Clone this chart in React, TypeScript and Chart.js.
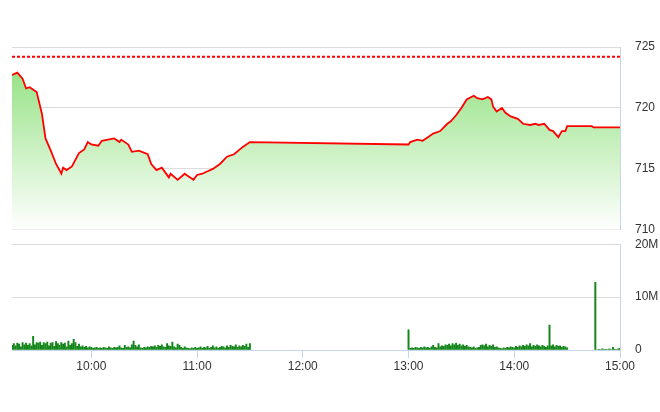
import React, { useEffect, useRef } from "react";
import { Chart, registerables } from "chart.js";
Chart.register(...registerables);

// ---- data ----
const priceTimes = [
  "09:15","09:18","09:21","09:23","09:25","09:29","09:32","09:34","09:37","09:40",
  "09:43","09:44","09:46","09:49","09:53","09:56","09:58","10:00","10:04","10:06",
  "10:13","10:16","10:17","10:21","10:23","10:27","10:32","10:34","10:37","10:40",
  "10:44","10:45","10:49","10:53","10:55","10:58","11:00","11:03","11:06","11:09",
  "11:13","11:17","11:21","11:26","11:30",
  "13:00","13:01","13:05","13:08","13:11","13:14","13:18","13:22","13:24","13:27",
  "13:30","13:33","13:37","13:39","13:42","13:45","13:47","13:48","13:50","13:53",
  "13:55","13:58","14:02","14:05","14:09","14:12","14:14","14:17","14:20","14:22",
  "14:25","14:27","14:29","14:30","14:44","14:45","15:00",
];
const priceValues = [
  722.7,722.9,722.4,721.6,721.7,721.3,719.5,717.5,716.5,715.4,
  714.6,715.1,714.9,715.2,716.3,716.6,717.2,717.0,716.9,717.3,
  717.5,717.2,717.4,717.0,716.4,716.5,716.2,715.4,714.9,715.1,
  714.3,714.6,714.1,714.6,714.4,714.1,714.5,714.6,714.8,715.0,
  715.4,716.0,716.2,716.8,717.2,
  717.0,717.2,717.4,717.3,717.6,717.9,718.1,718.7,718.9,719.4,
  720.0,720.7,721.0,720.8,720.7,720.9,720.7,720.1,719.7,720.0,
  719.6,719.3,719.1,718.7,718.6,718.7,718.6,718.7,718.2,718.1,
  717.6,718.1,718.1,718.5,718.5,718.4,718.4,
];
const refPrice = 724.2;
const sessionStart = "09:15";
const sessionEnd = "15:00";
const xTickLabels = ["10:00", "11:00", "12:00", "13:00", "14:00", "15:00"];
const priceTicks = [710, 715, 720, 725];
const volumeTicks = [0, 10000000, 20000000];

// volume per minute (millions)
const volMorningStart = "09:15";
const volMorning = [
  0.9,1.2,0.8,1.3,1.1,0.6,1.4,1.0,1.3,0.9,
  1.2,0.8,2.6,1.0,1.4,1.3,1.5,0.9,1.4,1.2,
  1.5,0.8,1.3,1.4,0.7,1.6,1.2,0.9,1.4,1.1,
  1.3,0.6,1.7,0.9,1.2,2.0,1.4,0.7,1.1,0.6,
  0.8,0.5,0.7,0.4,0.6,0.5,0.3,0.4,0.5,0.3,
  0.4,0.3,0.5,0.4,0.3,0.6,0.4,0.3,0.5,0.4,
  0.5,0.8,0.4,0.3,0.9,0.5,0.6,0.4,1.0,1.7,
  0.9,0.6,1.0,0.4,0.3,0.5,0.4,0.6,0.5,0.7,
  0.6,0.8,0.5,0.9,0.7,1.0,0.6,0.5,1.2,0.8,
  0.7,1.5,0.6,0.4,1.1,0.9,0.5,0.3,0.6,0.4,
  0.3,0.2,0.4,0.3,0.5,0.3,0.4,0.6,0.3,0.5,
  0.4,0.7,0.3,0.5,0.8,0.4,0.6,0.3,0.5,0.7,
  0.6,0.4,0.8,0.5,0.9,0.7,0.6,1.0,0.5,0.8,
  0.6,0.9,0.7,1.1,0.5,1.2,
];
const volAfternoonStart = "13:00";
const volAfternoon = [
  3.8,
  0.3,0.4,0.3,0.5,0.4,0.3,0.5,0.4,0.6,0.4,
  0.5,0.3,0.6,0.9,0.5,0.4,1.2,0.6,0.8,0.7,
  1.0,0.9,1.1,0.8,1.2,1.0,1.3,0.9,1.1,0.8,
  1.0,0.7,0.9,0.6,0.5,0.4,0.6,0.3,0.4,0.5,
  0.9,1.0,0.8,1.1,0.6,0.9,0.7,1.0,0.5,0.6,
  0.4,0.3,0.2,0.4,0.3,0.5,0.4,0.6,0.5,0.4,
  0.7,0.5,0.8,0.6,0.9,0.7,1.0,0.8,1.2,0.6,
  0.9,0.7,1.0,0.8,0.6,0.9,0.7,0.5,0.8,4.7,
  0.8,1.0,0.6,0.9,0.7,0.8,0.5,0.7,0.6,0.4,
];
const volCloseStart = "14:46";
const volClose = [12.8,0,0.15,0.1,0.2,0.1,0.15,0.1,0.2,0.1,0.5,0.15,0.1,0.2,0.3];

// ---- helpers ----
const toMin = (s: string) => {
  const [h, m] = s.split(":").map(Number);
  return h * 60 + m;
};
const fmt = (v: number) => {
  const h = Math.floor(v / 60);
  const m = Math.round(v - h * 60);
  return `${h}:${m < 10 ? "0" : ""}${m}`;
};
const FONT = { family: "'Liberation Sans Narrow', 'Arial Narrow', 'Liberation Sans', sans-serif", size: 12 };
const TXT = "#333333";
const GRID = "#dcdcdc";
const BLUE = "#c5d6e8";

function buildVolume() {
  const pts: { x: number; y: number }[] = [];
  const add = (start: string, arr: number[]) => {
    const s = toMin(start);
    arr.forEach((v, i) => pts.push({ x: s + i, y: v * 1e6 }));
  };
  add(volMorningStart, volMorning);
  add(volAfternoonStart, volAfternoon);
  add(volCloseStart, volClose);
  return pts;
}

export default function App() {
  const topRef = useRef<HTMLCanvasElement>(null);
  const botRef = useRef<HTMLCanvasElement>(null);

  useEffect(() => {
    const xMin = toMin(sessionStart);
    const xMax = toMin(sessionEnd);
    const top = new Chart(topRef.current!, {
      type: "line",
      data: {
        datasets: [
          {
            data: priceTimes.map((t, i) => ({ x: toMin(t), y: priceValues[i] })),
            borderColor: "#ff0000",
            borderWidth: 1.8,
            pointRadius: 0,
            tension: 0,
            fill: "start",
            backgroundColor: (ctx: any) => {
              const ca = ctx.chart.chartArea;
              if (!ca) return "rgba(140,224,124,0.5)";
              const g = ctx.chart.ctx.createLinearGradient(0, ca.top, 0, ca.bottom);
              g.addColorStop(0, "#86de74");
              g.addColorStop(0.5, "#c4efba");
              g.addColorStop(1, "#ffffff");
              return g;
            },
          },
          {
            data: [
              { x: xMin, y: refPrice },
              { x: xMax, y: refPrice },
            ],
            borderColor: "#ff0000",
            borderWidth: 2,
            borderDash: [3, 2],
            pointRadius: 0,
            fill: false,
          },
        ],
      },
      options: {
        responsive: false,
        animation: false,
        layout: { padding: { left: 12, top: 47, right: 0, bottom: 11 } },
        plugins: { legend: { display: false }, tooltip: { enabled: false } },
        scales: {
          x: { type: "linear", min: xMin, max: xMax, display: false, offset: false },
          y: {
            position: "right",
            min: priceTicks[0],
            max: priceTicks[priceTicks.length - 1],
            afterBuildTicks: (s: any) => {
              s.ticks = priceTicks.map((v) => ({ value: v }));
            },
            ticks: { padding: 15, font: FONT, color: TXT },
            grid: { color: GRID, drawTicks: false },
            border: { display: true, color: BLUE },
            afterFit: (s: any) => {
              s.width = 40;
            },
          },
        },
      },
    } as any);

    const bot = new Chart(botRef.current!, {
      type: "bar",
      data: {
        datasets: [
          {
            data: buildVolume(),
            backgroundColor: "#13861a",
            barThickness: 1.3,
          },
        ],
      },
      options: {
        responsive: false,
        animation: false,
        layout: { padding: { left: 12, top: 6, right: 0, bottom: 0 } },
        plugins: { legend: { display: false }, tooltip: { enabled: false } },
        scales: {
          x: {
            type: "linear",
            min: xMin,
            max: xMax,
            offset: false,
            afterBuildTicks: (s: any) => {
              s.ticks = xTickLabels.map((t) => ({ value: toMin(t) }));
            },
            ticks: {
              font: FONT,
              color: TXT,
              padding: 1,
              maxRotation: 0,
              autoSkip: false,
              callback: (v: any) => fmt(Number(v)),
            },
            grid: { drawOnChartArea: false, tickLength: 8, color: BLUE, offset: false },
            border: { display: true, color: BLUE },
            afterFit: (s: any) => {
              s.height = 62;
            },
          },
          y: {
            position: "right",
            min: 0,
            max: volumeTicks[volumeTicks.length - 1],
            afterBuildTicks: (s: any) => {
              s.ticks = volumeTicks.map((v) => ({ value: v }));
            },
            ticks: {
              padding: 15,
              font: FONT,
              color: TXT,
              callback: (v: any) => (Number(v) === 0 ? "0" : Number(v) / 1e6 + "M"),
            },
            grid: {
              color: (c: any) => (c.tick && c.tick.value === 0 ? "rgba(0,0,0,0)" : GRID),
              drawTicks: false,
            },
            border: { display: true, color: BLUE },
            afterFit: (s: any) => {
              s.width = 40;
            },
          },
        },
      },
    } as any);

    return () => {
      top.destroy();
      bot.destroy();
    };
  }, []);

  return (
    <div style={{ position: "absolute", left: 0, top: 0, width: 660, height: 412, background: "#fff" }}>
      <canvas ref={topRef} width={660} height={252} style={{ position: "absolute", left: 0, top: 0, display: "block" }} />
      <canvas ref={botRef} width={660} height={190} style={{ position: "absolute", left: 0, top: 222, display: "block" }} />
    </div>
  );
}
